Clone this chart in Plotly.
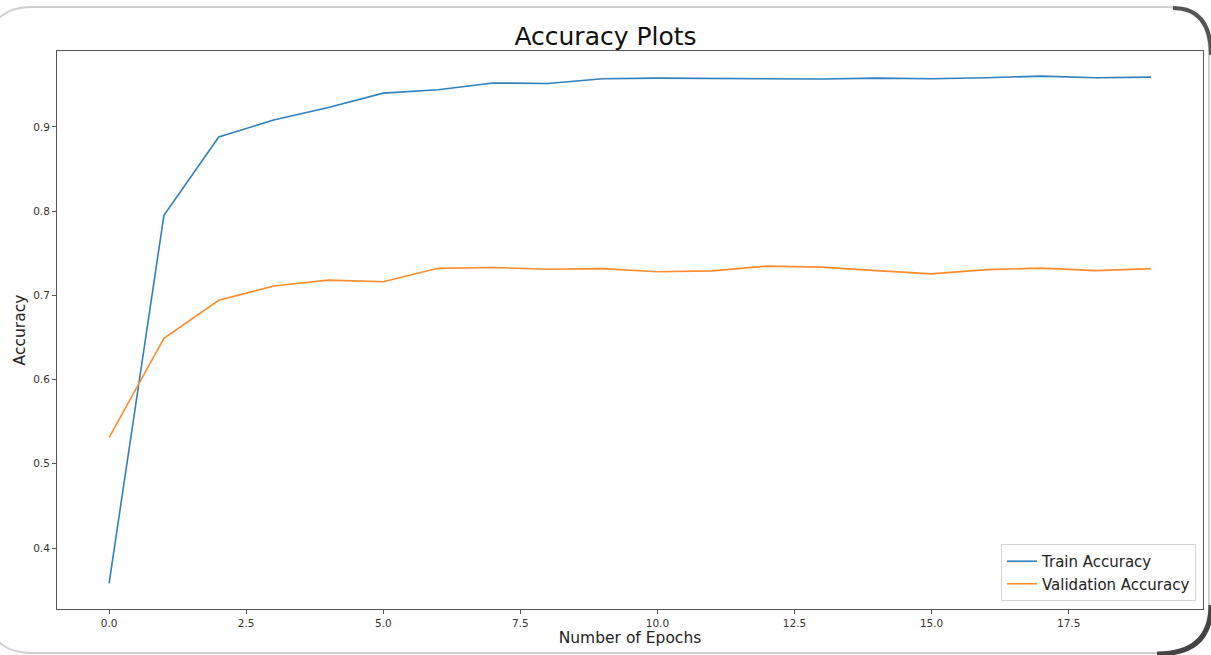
import plotly.graph_objects as go

# ---- data ----
epochs = list(range(20))
train_acc = [0.358, 0.795, 0.888, 0.908, 0.923, 0.940, 0.944, 0.952, 0.9515, 0.957,
             0.9578, 0.9574, 0.957, 0.9567, 0.9578, 0.957, 0.9582, 0.9602, 0.9582, 0.959]
val_acc = [0.531, 0.649, 0.694, 0.711, 0.718, 0.716, 0.732, 0.733, 0.731, 0.7317,
           0.728, 0.729, 0.7346, 0.7334, 0.7293, 0.7254, 0.7305, 0.7322, 0.7293, 0.7317]
x_tickvals = [0.0, 2.5, 5.0, 7.5, 10.0, 12.5, 15.0, 17.5]
x_ticktext = ["0.0", "2.5", "5.0", "7.5", "10.0", "12.5", "15.0", "17.5"]
y_tickvals = [0.4, 0.5, 0.6, 0.7, 0.8, 0.9]
y_ticktext = ["0.4", "0.5", "0.6", "0.7", "0.8", "0.9"]

W, H = 1211, 655
ML, MR, MT, MB = 57, 8, 51, 46
PW = W - ML - MR
PH = H - MT - MB

def px(x):
    return (x - ML) / PW

def py(y):
    return (H - MB - y) / PH

FONT = "DejaVu Sans"

fig = go.Figure()
fig.add_trace(go.Scatter(x=epochs, y=train_acc, mode="lines", name="Train Accuracy",
                         line=dict(color="#2f80bb", width=1.6)))
fig.add_trace(go.Scatter(x=epochs, y=val_acc, mode="lines", name="Validation Accuracy",
                         line=dict(color="#ff8c2e", width=1.6)))

# card outline with rounded corners
L, T, R, B, r = -12, 7, 1209, 653, 44
def P(x, y):
    return f"{px(x):.5f},{py(y):.5f}"
card = (f"M {P(L + r, T)} L {P(R - r, T)} Q {P(R, T)} {P(R, T + r)} "
        f"L {P(R, B - r)} Q {P(R, B)} {P(R - r, B)} L {P(L + r, B)} "
        f"Q {P(L, B)} {P(L, B - r)} L {P(L, T + r)} Q {P(L, T)} {P(L + r, T)} Z")
shadow_tr = f"M {P(R - r + 8, T + 1)} Q {P(R + 2, T + 1)} {P(R + 2, T + r + 4)}"
shadow_br = f"M {P(R + 2, B - r - 4)} Q {P(R + 2, B + 1)} {P(R - r - 8, B + 1)}"

fig.update_layout(
    width=W, height=H,
    margin=dict(l=ML, r=MR, t=MT, b=MB, autoexpand=False),
    paper_bgcolor="white", plot_bgcolor="white",
    font=dict(family=FONT, color="#222"),
    title=dict(text="Accuracy Plots", x=px(630), xanchor="center",
               y=1 - 36 / H, yanchor="middle",
               font=dict(family=FONT, size=25, color="#111")),
    xaxis=dict(range=[-0.95, 19.95], tickvals=x_tickvals, ticktext=x_ticktext,
               showgrid=False, zeroline=False, showline=True, mirror=True,
               linecolor="#555", linewidth=1, ticks="outside", ticklen=4,
               tickcolor="#555", tickfont=dict(family=FONT, size=10.5, color="#333"),
               title=dict(text="Number of Epochs", standoff=4,
                          font=dict(family=FONT, size=15.5, color="#222"))),
    yaxis=dict(range=[0.3276, 0.990], tickvals=y_tickvals, ticktext=y_ticktext,
               showgrid=False, zeroline=False, showline=True, mirror=True,
               linecolor="#555", linewidth=1, ticks="outside", ticklen=4,
               tickcolor="#555", tickfont=dict(family=FONT, size=10.5, color="#333"),
               title=dict(text="Accuracy", standoff=3,
                          font=dict(family=FONT, size=15.5, color="#222"))),
    legend=dict(x=px(1196), xanchor="right", y=py(601), yanchor="bottom",
                bgcolor="white", bordercolor="#d5d5d5", borderwidth=1,
                font=dict(family=FONT, size=15, color="#222"),
                tracegroupgap=0),
    showlegend=True,
    shapes=[
        dict(type="path", xref="paper", yref="paper", path=card,
             line=dict(color="#cfcfcf", width=2), fillcolor="rgba(0,0,0,0)", layer="below"),
        dict(type="path", xref="paper", yref="paper", path=shadow_tr,
             line=dict(color="#555", width=4), layer="above"),
        dict(type="path", xref="paper", yref="paper", path=shadow_br,
             line=dict(color="#444", width=5), layer="above"),
    ],
)

fig.write_html(
    "out.html",
    config={"displayModeBar": False},
    post_script="document.body.style.margin='0';document.body.style.overflow='hidden';",
)
